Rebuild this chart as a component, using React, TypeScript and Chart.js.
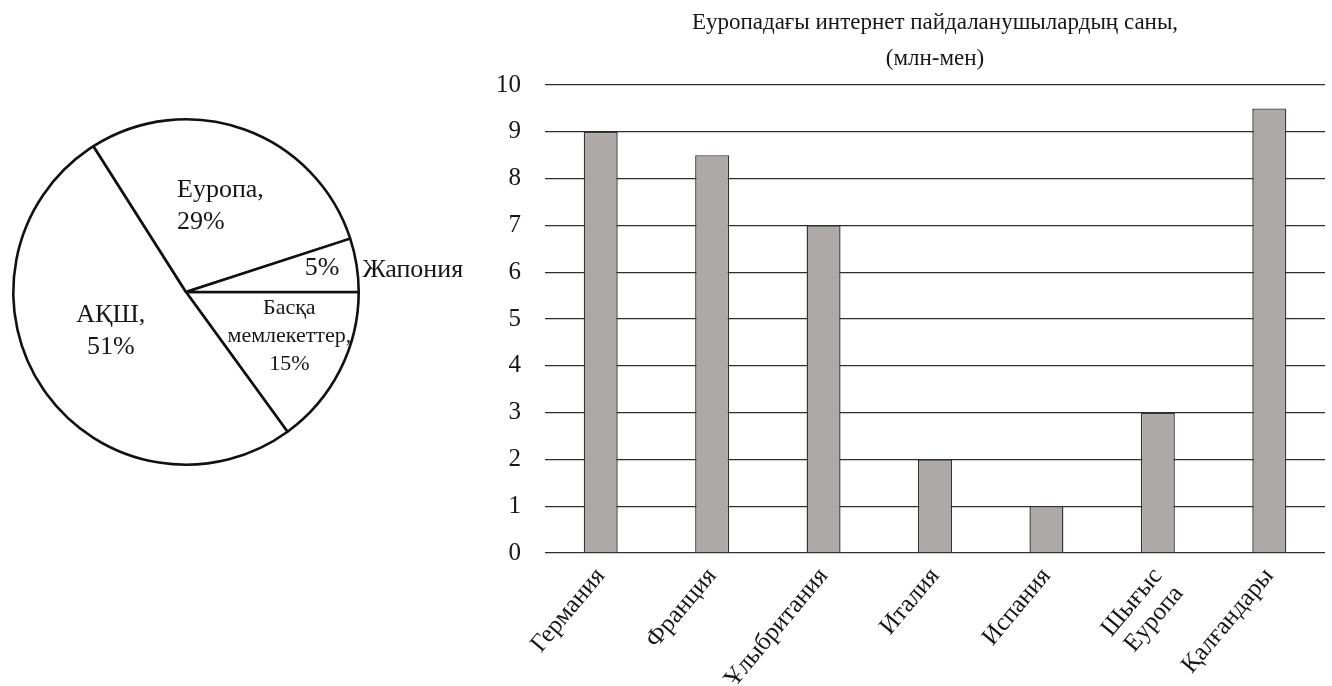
import React, { useEffect, useRef } from "react";
import { Chart, registerables } from "chart.js";
Chart.register(...registerables);

// ---------- data ----------
const pieCategories = ["Басқа мемлекеттер", "АҚШ", "Еуропа", "Жапония"];
const pieValues = [15, 51, 29, 5];
const pieInsideLabels = [["Басқа", "мемлекеттер,", "15%"], ["АҚШ,", "51%"], ["Еуропа,", "29%"], ["5%"]];
const pieOutsideLabels = ["", "", "", "Жапония"];

const barCategories = ["Германия", "Франция", "Ұлыбритания", "Италия", "Испания", ["Шығыс", "Еуропа"], "Қалғандары"];
const barValues = [9, 8.5, 7, 2, 1, 3, 9.5];
const yMin = 0;
const yMax = 10;
const yStep = 1;
const barTitle = ["Еуропадағы интернет пайдаланушылардың саны,", "(млн-мен)"];

// ---------- label placement (relative to pie geometry) ----------
const insideStyle = [
  { rFrac: 0.65, nudge: -4, size: 22, lh: 28, align: "center" },
  { rFrac: 0.49, nudge: 7, size: 26, lh: 32, align: "center" },
  { rFrac: 0.537, nudge: 2, size: 26, lh: 32, align: "left" },
  { rFrac: 0.8, nudge: -1, size: 26, lh: 32, align: "center" },
];
const outsideStyle = { rFrac: 1.03, nudge: 2, size: 26 };
const SERIF = "'Liberation Serif', 'DejaVu Serif', serif";

const pieLabelPlugin = {
  id: "pieLabels",
  afterDatasetsDraw(chart: any) {
    const ctx = chart.ctx;
    const meta = chart.getDatasetMeta(0);
    ctx.save();
    ctx.fillStyle = "#161616";
    ctx.textBaseline = "middle";
    meta.data.forEach((arc: any, i: number) => {
      const { x, y, startAngle, endAngle, outerRadius } = arc.getProps(
        ["x", "y", "startAngle", "endAngle", "outerRadius"],
        true
      );
      const mid = (startAngle + endAngle) / 2;
      const st = insideStyle[i];
      const a = mid + (st.nudge * Math.PI) / 180;
      const cx = x + Math.cos(a) * outerRadius * st.rFrac;
      const cy = y + Math.sin(a) * outerRadius * st.rFrac;
      const lines = pieInsideLabels[i];
      ctx.font = `${st.size}px ${SERIF}`;
      const maxW = Math.max(...lines.map((l) => ctx.measureText(l).width));
      const top = cy - ((lines.length - 1) * st.lh) / 2;
      lines.forEach((l, k) => {
        if (st.align === "left") {
          ctx.textAlign = "left";
          ctx.fillText(l, cx - maxW / 2, top + k * st.lh);
        } else {
          ctx.textAlign = "center";
          ctx.fillText(l, cx, top + k * st.lh);
        }
      });
      const out = pieOutsideLabels[i];
      if (out) {
        const b = mid + (outsideStyle.nudge * Math.PI) / 180;
        const ox = x + Math.cos(b) * outerRadius * outsideStyle.rFrac;
        const oy = y + Math.sin(b) * outerRadius * outsideStyle.rFrac;
        ctx.font = `${outsideStyle.size}px ${SERIF}`;
        ctx.textAlign = "left";
        ctx.fillText(out, ox, oy);
      }
    });
    ctx.restore();
  },
};

function PieChart() {
  const ref = useRef<HTMLCanvasElement>(null);
  useEffect(() => {
    const chart = new Chart(ref.current!, {
      type: "pie",
      data: {
        labels: pieCategories,
        datasets: [
          {
            data: pieValues,
            backgroundColor: "#ffffff",
            borderColor: "#111111",
            borderWidth: 2.6,
          },
        ],
      },
      options: {
        responsive: false,
        animation: false,
        rotation: 90,
        layout: { padding: { left: 12, right: 120, top: 118, bottom: 220 } },
        plugins: { legend: { display: false }, tooltip: { enabled: false } },
      },
      plugins: [pieLabelPlugin],
    });
    return () => chart.destroy();
  }, []);
  return (
    <canvas
      ref={ref}
      width={480}
      height={686}
      style={{ position: "absolute", left: 0, top: 0, width: 480, height: 686 }}
    />
  );
}

function BarChart() {
  const ref = useRef<HTMLCanvasElement>(null);
  useEffect(() => {
    const chart = new Chart(ref.current!, {
      type: "bar",
      data: {
        labels: barCategories as any,
        datasets: [
          {
            data: barValues,
            backgroundColor: "#ada9a9",
            borderColor: "#333333",
            borderWidth: 1.4,
            barPercentage: 0.305,
            categoryPercentage: 1,
          },
        ],
      },
      options: {
        responsive: false,
        animation: false,
        layout: { padding: { left: 0, right: 7, top: 0, bottom: 0 } },
        plugins: {
          legend: { display: false },
          tooltip: { enabled: false },
          title: {
            display: true,
            fullSize: false,
            text: barTitle,
            color: "#161616",
            font: { family: SERIF, size: 23, weight: "normal", lineHeight: 1.55 },
            padding: { top: 5, bottom: 8.7 },
          },
        },
        scales: {
          x: {
            grid: { display: false },
            border: { display: false },
            ticks: {
              color: "#161616",
              font: { family: SERIF, size: 25, lineHeight: 1.1 },
              minRotation: 50,
              maxRotation: 50,
              padding: 2,
              autoSkip: false,
            },
            afterFit: (s: any) => {
              s.height = 133;
            },
          },
          y: {
            min: yMin,
            max: yMax,
            grid: { color: "#2e2e2e", lineWidth: 1.3, drawTicks: false },
            border: { display: false },
            ticks: {
              stepSize: yStep,
              color: "#161616",
              font: { family: SERIF, size: 25 },
              padding: 24,
            },
            afterFit: (s: any) => {
              s.width = 65;
            },
          },
        },
      },
    });
    return () => chart.destroy();
  }, []);
  return (
    <canvas
      ref={ref}
      width={852}
      height={686}
      style={{ position: "absolute", left: 480, top: 0, width: 852, height: 686 }}
    />
  );
}

export default function App() {
  return (
    <div
      style={{
        position: "fixed",
        left: 0,
        top: 0,
        width: 1332,
        height: 686,
        background: "#ffffff",
        overflow: "hidden",
      }}
    >
      <PieChart />
      <BarChart />
    </div>
  );
}
